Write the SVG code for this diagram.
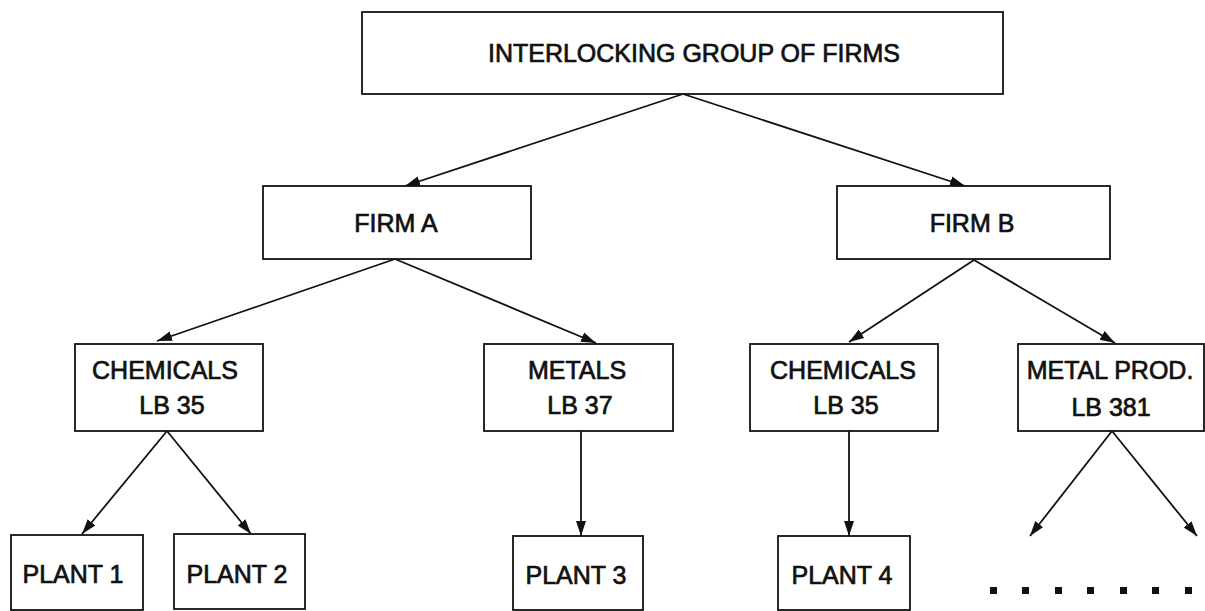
<svg xmlns="http://www.w3.org/2000/svg" width="1205" height="611" viewBox="0 0 1205 611">
<style>
.box{fill:#fff;stroke:#111;stroke-width:1.8}
.t{font-family:"Liberation Sans",Arial,sans-serif;font-size:25px;fill:#111;stroke:#111;stroke-width:0.7;text-anchor:middle}
.c{stroke:#111;stroke-width:1.8;fill:none;marker-end:url(#ah)}
</style>
<defs>
<marker id="ah" markerUnits="userSpaceOnUse" markerWidth="16" markerHeight="12" refX="15" refY="6" orient="auto">
<path d="M0,1 L15,6 L0,11 Z" fill="#111"/>
</marker>
</defs>
<rect width="1205" height="611" fill="#fff"/>
<g id="connectors">
<line class="c" x1="683" y1="94" x2="405" y2="186"/>
<line class="c" x1="683" y1="94" x2="965" y2="186"/>
<line class="c" x1="395" y1="259" x2="157" y2="341"/>
<line class="c" x1="395" y1="259" x2="596" y2="343"/>
<line class="c" x1="974" y1="260" x2="849" y2="342"/>
<line class="c" x1="974" y1="260" x2="1115" y2="343"/>
<line class="c" x1="167" y1="431" x2="82" y2="534"/>
<line class="c" x1="167" y1="431" x2="251" y2="534"/>
<line class="c" x1="581" y1="431" x2="581" y2="536"/>
<line class="c" x1="849" y1="431" x2="849" y2="536"/>
<line class="c" x1="1112" y1="431" x2="1030" y2="536"/>
<line class="c" x1="1112" y1="431" x2="1197" y2="536"/>
</g>
<g id="top">
<rect class="box" x="362" y="12" width="641" height="82"/>
<text class="t" x="694" y="62">INTERLOCKING GROUP OF FIRMS</text>
</g>
<g id="firmA">
<rect class="box" x="263" y="186" width="268" height="73"/>
<text class="t" x="396" y="232">FIRM A</text>
</g>
<g id="firmB">
<rect class="box" x="837" y="186" width="273" height="73"/>
<text class="t" x="972" y="232">FIRM B</text>
</g>
<g id="chemA">
<rect class="box" x="75" y="344" width="188" height="87"/>
<text class="t" x="165" y="379">CHEMICALS</text>
<text class="t" x="172" y="414">LB 35</text>
</g>
<g id="metals">
<rect class="box" x="484" y="344" width="189" height="87"/>
<text class="t" x="577" y="379">METALS</text>
<text class="t" x="580" y="414">LB 37</text>
</g>
<g id="chemB">
<rect class="box" x="750" y="344" width="188" height="87"/>
<text class="t" x="843" y="379">CHEMICALS</text>
<text class="t" x="846" y="414">LB 35</text>
</g>
<g id="metalprod">
<rect class="box" x="1018" y="344" width="186" height="87"/>
<text class="t" x="1110" y="379">METAL PROD.</text>
<text class="t" x="1111" y="416">LB 381</text>
</g>
<g id="plant1">
<rect class="box" x="11" y="535" width="132" height="75"/>
<text class="t" x="73" y="583">PLANT 1</text>
</g>
<g id="plant2">
<rect class="box" x="174" y="534" width="131" height="75"/>
<text class="t" x="237" y="583">PLANT 2</text>
</g>
<g id="plant3">
<rect class="box" x="513" y="536" width="130" height="74"/>
<text class="t" x="576" y="584">PLANT 3</text>
</g>
<g id="plant4">
<rect class="box" x="778" y="536" width="132" height="74"/>
<text class="t" x="842" y="584">PLANT 4</text>
</g>
<g id="dots" fill="#111">
<rect x="990" y="587" width="7" height="7"/>
<rect x="1022" y="587" width="7" height="7"/>
<rect x="1055" y="587" width="7" height="7"/>
<rect x="1087" y="587" width="7" height="7"/>
<rect x="1120" y="587" width="7" height="7"/>
<rect x="1152" y="587" width="7" height="7"/>
<rect x="1185" y="587" width="7" height="7"/>
</g>
</svg>
